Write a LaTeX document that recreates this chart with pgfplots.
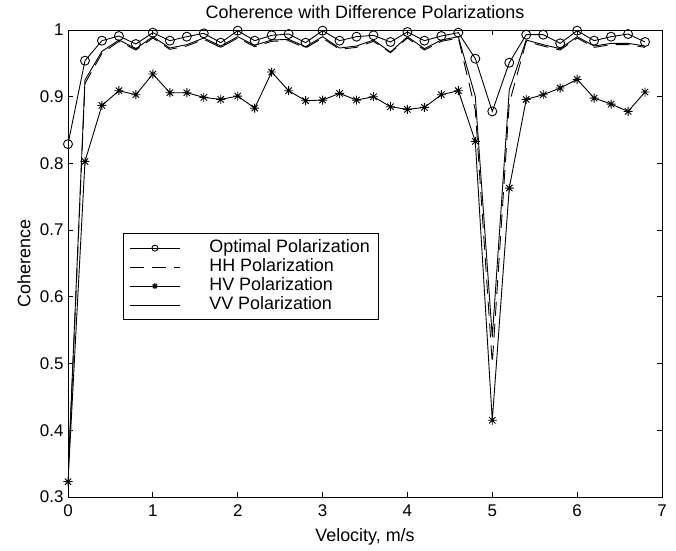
\documentclass[border=0pt]{standalone}
\usepackage{fontspec}
\setmainfont{Liberation Sans}
\usepackage{pgfplots}
\usepackage{pgfplotstable}
\pgfplotsset{compat=1.18}
\pgfdeclareplotmark{star8}{%
  \pgfpathmoveto{\pgfpoint{-\pgfplotmarksize}{0pt}}\pgfpathlineto{\pgfpoint{\pgfplotmarksize}{0pt}}%
  \pgfpathmoveto{\pgfpoint{0pt}{-\pgfplotmarksize}}\pgfpathlineto{\pgfpoint{0pt}{\pgfplotmarksize}}%
  \pgfpathmoveto{\pgfpoint{-0.707\pgfplotmarksize}{-0.707\pgfplotmarksize}}\pgfpathlineto{\pgfpoint{0.707\pgfplotmarksize}{0.707\pgfplotmarksize}}%
  \pgfpathmoveto{\pgfpoint{-0.707\pgfplotmarksize}{0.707\pgfplotmarksize}}\pgfpathlineto{\pgfpoint{0.707\pgfplotmarksize}{-0.707\pgfplotmarksize}}%
  \pgfusepathqstroke}
\pgfplotstableread{
x opt hh hv vv
0.0 0.829 0.325 0.323 0.330
0.2 0.954 0.920 0.803 0.925
0.4 0.984 0.965 0.887 0.968
0.6 0.991 0.983 0.909 0.985
0.8 0.979 0.970 0.903 0.972
1.0 0.996 0.988 0.934 0.990
1.2 0.984 0.971 0.906 0.973
1.4 0.990 0.976 0.906 0.978
1.6 0.995 0.986 0.899 0.988
1.8 0.981 0.974 0.896 0.976
2.0 0.999 0.988 0.901 0.990
2.2 0.984 0.975 0.883 0.977
2.4 0.992 0.983 0.937 0.985
2.6 0.994 0.984 0.909 0.986
2.8 0.981 0.973 0.894 0.975
3.0 0.999 0.988 0.895 0.990
3.2 0.984 0.971 0.905 0.973
3.4 0.990 0.974 0.895 0.976
3.6 0.992 0.983 0.900 0.985
3.8 0.982 0.966 0.885 0.967
4.0 0.997 0.988 0.881 0.990
4.2 0.984 0.970 0.884 0.972
4.4 0.991 0.983 0.903 0.985
4.6 0.996 0.988 0.909 0.990
4.8 0.957 0.880 0.833 0.900
5.0 0.878 0.500 0.415 0.540
5.2 0.951 0.890 0.763 0.910
5.4 0.993 0.983 0.896 0.985
5.6 0.993 0.976 0.903 0.978
5.8 0.980 0.970 0.913 0.972
6.0 0.999 0.988 0.926 0.990
6.2 0.984 0.974 0.898 0.976
6.4 0.990 0.978 0.889 0.980
6.6 0.994 0.978 0.878 0.980
6.8 0.982 0.974 0.907 0.976
}\datatable
\begin{document}
\begin{tikzpicture}
\path[use as bounding box] (-68bp,-54bp) rectangle (608bp,497bp);
\begin{axis}[
  at={(0,0)}, anchor=south west,
  scale only axis, width=594bp, height=467bp,
  xmin=0, xmax=7, ymin=0.3, ymax=1,
  xtick={0,1,...,7}, ytick={0.3,0.4,...,1.0},
  yticklabels={0.3,0.4,0.5,0.6,0.7,0.8,0.9,1},
  tick align=inside, major tick length=5bp,
  xtick pos=both, ytick pos=both,
  axis line style={line width=0.9bp},
  tick style={line width=0.9bp, black},
  /pgf/number format/assume math mode=true,
  tick label style={font=\fontsize{17}{19}\selectfont},
  xticklabel style={yshift=-4bp},
  yticklabel style={xshift=-1bp},
  title={Coherence with Difference Polarizations},
  title style={font=\fontsize{18}{20}\selectfont, at={(0.5,1)}, anchor=south, yshift=2bp},
  xlabel={Velocity, m/s},
  ylabel={Coherence},
  label style={font=\fontsize{18}{20}\selectfont},
  xlabel style={at={(0.5,0)}, anchor=north, yshift=-28bp},
  ylabel style={at={(0,0.5)}, anchor=south, yshift=34bp},
  legend style={at={(0.0926,0.565)}, anchor=north west, draw=black, line width=0.9bp,
    fill=white, font=\fontsize{18}{20}\selectfont, inner xsep=6bp, inner ysep=5bp,
    nodes={inner xsep=3bp, inner ysep=1bp, text height=13bp, text depth=4bp},
    /tikz/every even column/.append style={column sep=0bp}},
  legend cell align=left,
  legend image code/.code={\draw[mark repeat=2,mark phase=2,#1,mark size=3bp] plot coordinates {(0bp,0bp) (25bp,0bp) (50bp,0bp)};},
  every axis plot/.append style={line width=0.9bp, black},
]
\addplot[mark=o, mark size=4.5bp, mark options={solid, line width=0.9bp}] table[x=x,y=opt] {\datatable};
\addlegendentry{\hspace*{26bp}Optimal Polarization}
\addplot[dash pattern=on 14bp off 8bp] table[x=x,y=hh] {\datatable};
\addlegendentry{\hspace*{26bp}HH Polarization}
\addplot[mark=star8, mark size=4.5bp, mark options={solid, line width=0.9bp}] table[x=x,y=hv] {\datatable};
\addlegendentry{\hspace*{26bp}HV Polarization}
\addplot[] table[x=x,y=vv] {\datatable};
\addlegendentry{\hspace*{26bp}VV Polarization}
\end{axis}
\end{tikzpicture}
\end{document}
